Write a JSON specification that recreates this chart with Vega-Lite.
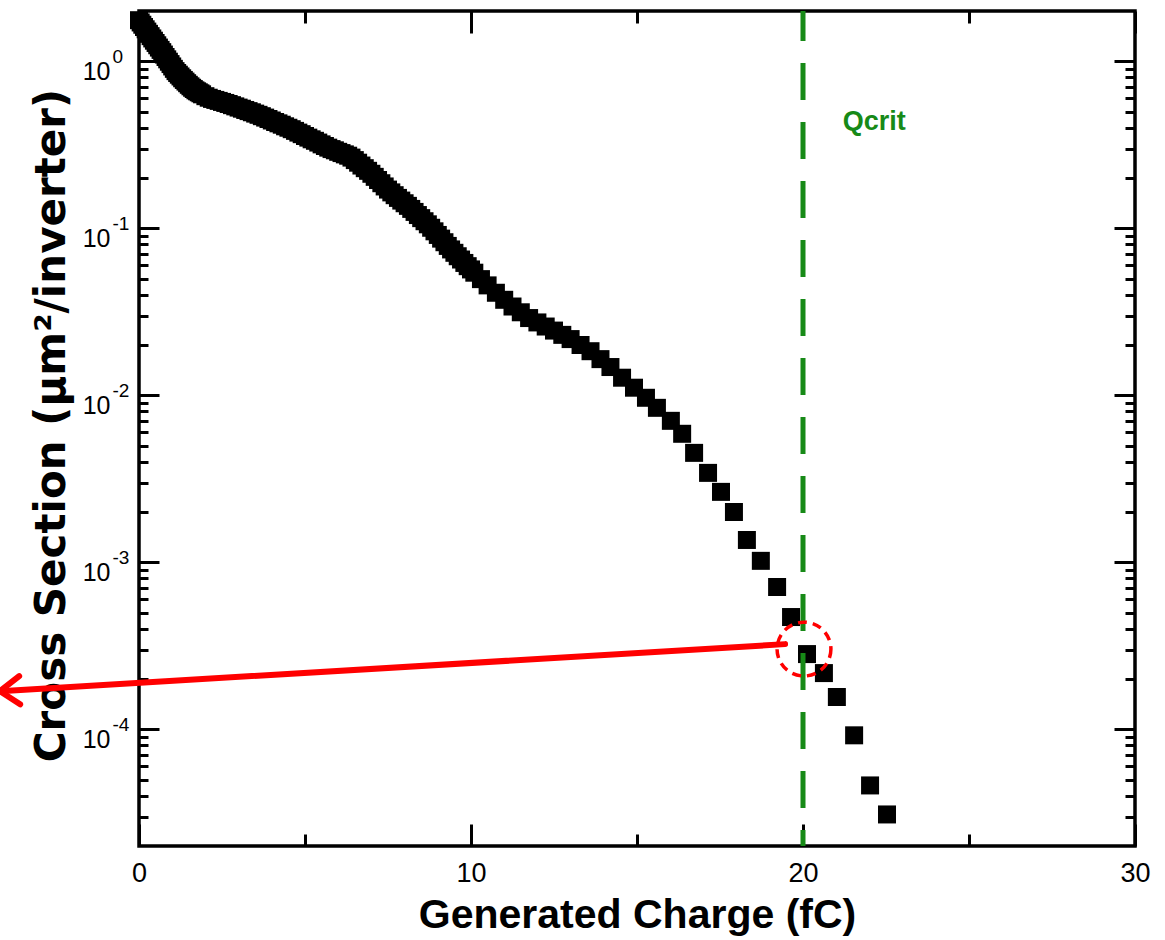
{
  "$schema": "https://vega.github.io/schema/vega-lite/v6.json",
  "width": 996,
  "height": 835,
  "autosize": {"type": "none"},
  "padding": {"left": 139, "top": 11, "right": 30, "bottom": 94},
  "background": "white",
  "config": {
    "view": {"stroke": "black", "strokeWidth": 3.5},
    "axis": {"domain": false, "grid": false, "tickColor": "black", "labelColor": "black", "titleColor": "black", "labelFont": "Liberation Sans", "titleFont": "Liberation Sans"}
  },
  "datasets": {
    "curve": [
      {"q": 0.0, "s": 1.762}, {"q": 0.05, "s": 1.708}, {"q": 0.1, "s": 1.655}, {"q": 0.15, "s": 1.604}, {"q": 0.2, "s": 1.554}, {"q": 0.25, "s": 1.506}, {"q": 0.3, "s": 1.46},
      {"q": 0.35, "s": 1.414}, {"q": 0.4, "s": 1.37}, {"q": 0.45, "s": 1.328}, {"q": 0.5, "s": 1.287}, {"q": 0.55, "s": 1.247}, {"q": 0.6, "s": 1.208}, {"q": 0.65, "s": 1.17}, {"q": 0.7, "s": 1.134},
      {"q": 0.75, "s": 1.097}, {"q": 0.8, "s": 1.061}, {"q": 0.85, "s": 1.027}, {"q": 0.9, "s": 0.994}, {"q": 0.95, "s": 0.962}, {"q": 1.0, "s": 0.931}, {"q": 1.05, "s": 0.901}, {"q": 1.1, "s": 0.873},
      {"q": 1.15, "s": 0.851}, {"q": 1.2, "s": 0.831}, {"q": 1.25, "s": 0.811}, {"q": 1.3, "s": 0.791}, {"q": 1.35, "s": 0.773}, {"q": 1.4, "s": 0.756}, {"q": 1.45, "s": 0.739}, {"q": 1.5, "s": 0.723},
      {"q": 1.55, "s": 0.708}, {"q": 1.6, "s": 0.694}, {"q": 1.65, "s": 0.682}, {"q": 1.7, "s": 0.67}, {"q": 1.75, "s": 0.661}, {"q": 1.8, "s": 0.652}, {"q": 1.85, "s": 0.643}, {"q": 1.9, "s": 0.634},
      {"q": 2.0, "s": 0.618}, {"q": 2.1, "s": 0.605}, {"q": 2.2, "s": 0.595}, {"q": 2.3, "s": 0.587}, {"q": 2.4, "s": 0.579},
      {"q": 2.5, "s": 0.571}, {"q": 2.6, "s": 0.563}, {"q": 2.7, "s": 0.555}, {"q": 2.8, "s": 0.546}, {"q": 2.9, "s": 0.537}, {"q": 3.0, "s": 0.528},
      {"q": 3.1, "s": 0.52}, {"q": 3.2, "s": 0.511}, {"q": 3.3, "s": 0.503}, {"q": 3.4, "s": 0.495}, {"q": 3.5, "s": 0.486}, {"q": 3.6, "s": 0.478},
      {"q": 3.7, "s": 0.469}, {"q": 3.8, "s": 0.46}, {"q": 3.9, "s": 0.451}, {"q": 4.0, "s": 0.442}, {"q": 4.1, "s": 0.433}, {"q": 4.2, "s": 0.425},
      {"q": 4.3, "s": 0.417}, {"q": 4.4, "s": 0.408}, {"q": 4.5, "s": 0.4}, {"q": 4.6, "s": 0.392}, {"q": 4.7, "s": 0.383}, {"q": 4.8, "s": 0.374},
      {"q": 4.9, "s": 0.366}, {"q": 5.0, "s": 0.357}, {"q": 5.1, "s": 0.349}, {"q": 5.2, "s": 0.341}, {"q": 5.3, "s": 0.334}, {"q": 5.4, "s": 0.326},
      {"q": 5.5, "s": 0.318}, {"q": 5.6, "s": 0.311}, {"q": 5.7, "s": 0.304}, {"q": 5.8, "s": 0.298}, {"q": 5.9, "s": 0.293}, {"q": 6.0, "s": 0.287},
      {"q": 6.1, "s": 0.282}, {"q": 6.2, "s": 0.277}, {"q": 6.3, "s": 0.272}, {"q": 6.4, "s": 0.265}, {"q": 6.5, "s": 0.256}, {"q": 6.6, "s": 0.247},
      {"q": 6.7, "s": 0.2375}, {"q": 6.8, "s": 0.229}, {"q": 6.9, "s": 0.2208}, {"q": 7.0, "s": 0.212}, {"q": 7.1, "s": 0.2032}, {"q": 7.2, "s": 0.1945},
      {"q": 7.3, "s": 0.1861}, {"q": 7.4, "s": 0.178}, {"q": 7.5, "s": 0.1705}, {"q": 7.6, "s": 0.164}, {"q": 7.7, "s": 0.1578}, {"q": 7.8, "s": 0.152},
      {"q": 7.9, "s": 0.1465}, {"q": 8.0, "s": 0.1412}, {"q": 8.1, "s": 0.1362}, {"q": 8.2, "s": 0.1306}, {"q": 8.3, "s": 0.1253}, {"q": 8.4, "s": 0.12},
      {"q": 8.5, "s": 0.115}, {"q": 8.6, "s": 0.1102}, {"q": 8.7, "s": 0.1056}, {"q": 8.8, "s": 0.1007}, {"q": 8.9, "s": 0.0959}, {"q": 9.0, "s": 0.0912},
      {"q": 9.1, "s": 0.0867}, {"q": 9.2, "s": 0.0825}, {"q": 9.3, "s": 0.0784}, {"q": 9.4, "s": 0.0747}, {"q": 9.5, "s": 0.0713}, {"q": 9.6, "s": 0.068},
      {"q": 9.7, "s": 0.065}, {"q": 9.8, "s": 0.062}, {"q": 9.9, "s": 0.0593}, {"q": 10.0, "s": 0.0567}, {"q": 10.1, "s": 0.0542},
      {"q": 10.3, "s": 0.0496}, {"q": 10.5, "s": 0.0455}, {"q": 10.75, "s": 0.0411}, {"q": 11.0, "s": 0.0373},
      {"q": 11.25, "s": 0.034}, {"q": 11.5, "s": 0.0314}, {"q": 11.75, "s": 0.029}, {"q": 12.0, "s": 0.0273},
      {"q": 12.25, "s": 0.0258}, {"q": 12.5, "s": 0.0244}, {"q": 12.75, "s": 0.023}, {"q": 13.0, "s": 0.0217},
      {"q": 13.3, "s": 0.02}, {"q": 13.6, "s": 0.01836}, {"q": 13.9, "s": 0.01646}, {"q": 14.2, "s": 0.01476},
      {"q": 14.55, "s": 0.01274}, {"q": 14.91, "s": 0.0111}, {"q": 15.27, "s": 0.00966}, {"q": 15.6, "s": 0.00841},
      {"q": 16.02, "s": 0.00703}, {"q": 16.36, "s": 0.00588}, {"q": 16.72, "s": 0.00452}, {"q": 17.14, "s": 0.00343},
      {"q": 17.53, "s": 0.00264}, {"q": 17.92, "s": 0.002}, {"q": 18.31, "s": 0.00136}, {"q": 18.73, "s": 0.00102},
      {"q": 19.22, "s": 0.000711}, {"q": 19.64, "s": 0.00047}, {"q": 20.12, "s": 0.000282}, {"q": 20.63, "s": 0.000217},
      {"q": 21.02, "s": 0.000156}, {"q": 21.54, "s": 0.000092}, {"q": 22.02, "s": 0.0000461}, {"q": 22.53, "s": 0.0000309}
    ],
    "qcrit": [{"q": 20, "top": 2, "bottom": 0.00002}],
    "arrow": [{"xa": 19.46, "ya": 0.0003235, "xb": -4.19, "yb": 0.000169}],
    "arrowhead": [
      {"xa": -4.19, "ya": 0.000169, "xb": -3.61, "yb": 0.000208},
      {"xa": -4.19, "ya": 0.000169, "xb": -3.58, "yb": 0.000141}
    ],
    "circle": [{"q": 20.03, "s": 0.000302}],
    "label": [{"q": 21.2, "s": 0.43, "text": "Qcrit"}]
  },
  "resolve": {"axis": {"x": "independent", "y": "independent"}},
  "layer": [
    {
      "data": {"name": "curve"},
      "mark": {"type": "point", "shape": "square", "filled": true, "size": 324, "color": "black", "opacity": 1, "strokeWidth": 0},
      "encoding": {
        "x": {"field": "q", "type": "quantitative",
          "scale": {"domain": [0, 30], "nice": false, "zero": false},
          "axis": {"orient": "bottom", "values": [0, 10, 20, 30], "format": "d", "labelFlush": false, "ticks": false, "tickSize": 0, "labelPadding": 14, "labelFontSize": 27,
            "title": "Generated Charge (fC)", "titleFontSize": 41, "titleFontWeight": "bold", "titleBaseline": "alphabetic", "titleY": 81, "titleX": 498, "titleAlign": "center"}},
        "y": {"field": "s", "type": "quantitative",
          "scale": {"type": "log", "domain": [0.00002, 2], "nice": false},
          "axis": {"orient": "left", "values": [0.0001, 0.001, 0.01, 0.1, 1], "labelExpr": "'10'", "ticks": false, "tickSize": 0, "labelPadding": 29, "labelOffset": 10, "labelBaseline": "middle", "labelAlign": "right", "labelFontSize": 25, "labelOverlap": false,
            "title": "Cross Section (μm²/inverter)", "titleFont": "DejaVu Sans", "titleFontSize": 42, "titleFontWeight": "bold", "titleAngle": 270, "titleBaseline": "alphabetic", "titleAlign": "center", "titleX": -75, "titleY": 414}}
      }
    },
    {
      "data": {"name": "qcrit"},
      "mark": {"type": "rule", "color": "#178a17", "strokeWidth": 5, "strokeDash": [37, 22], "strokeDashOffset": 7},
      "encoding": {
        "x": {"field": "q", "type": "quantitative",
          "scale": {"domain": [0, 30], "nice": false, "zero": false},
          "axis": {"orient": "bottom", "values": [0, 10, 20, 30], "labels": false, "ticks": true, "tickSize": -22, "tickWidth": 3, "title": null}},
        "y": {"field": "top", "type": "quantitative",
          "scale": {"type": "log", "domain": [0.00002, 2], "nice": false},
          "axis": {"orient": "left", "values": [0.0001, 0.001, 0.01, 0.1, 1], "labelExpr": "'' + round(log(datum.value) / LN10)", "ticks": false, "tickSize": 0, "labelPadding": 27, "labelOffset": -5, "labelBaseline": "middle", "labelAlign": "left", "labelFontSize": 19, "labelOverlap": false, "title": null}},
        "y2": {"field": "bottom"}
      }
    },
    {
      "data": {"name": "arrow"},
      "mark": {"type": "rule", "color": "#ff0000", "strokeWidth": 6, "strokeCap": "round"},
      "encoding": {
        "x": {"field": "xa", "type": "quantitative",
          "scale": {"domain": [0, 30], "nice": false, "zero": false},
          "axis": {"orient": "bottom", "values": [5, 15, 25], "labels": false, "ticks": true, "tickSize": -12, "tickWidth": 3, "title": null}},
        "y": {"field": "ya", "type": "quantitative",
          "scale": {"type": "log", "domain": [0.00002, 2], "nice": false},
          "axis": {"orient": "left", "values": [0.0001, 0.001, 0.01, 0.1, 1], "labels": false, "ticks": true, "tickSize": -20, "tickWidth": 3, "title": null}},
        "x2": {"field": "xb"},
        "y2": {"field": "yb"}
      }
    },
    {
      "data": {"name": "arrowhead"},
      "mark": {"type": "rule", "color": "#ff0000", "strokeWidth": 6, "strokeCap": "round"},
      "encoding": {
        "x": {"field": "xa", "type": "quantitative",
          "scale": {"domain": [0, 30], "nice": false, "zero": false},
          "axis": {"orient": "top", "values": [0, 10, 20, 30], "labels": false, "ticks": true, "tickSize": -22, "tickWidth": 3, "title": null}},
        "y": {"field": "ya", "type": "quantitative",
          "scale": {"type": "log", "domain": [0.00002, 2], "nice": false},
          "axis": {"orient": "left", "values": [0.00003, 0.00004, 0.00005, 0.00006, 0.00007, 0.00008, 0.00009, 0.0002, 0.0003, 0.0004, 0.0005, 0.0006, 0.0007, 0.0008, 0.0009, 0.002, 0.003, 0.004, 0.005, 0.006, 0.007, 0.008, 0.009, 0.02, 0.03, 0.04, 0.05, 0.06, 0.07, 0.08, 0.09, 0.2, 0.3, 0.4, 0.5, 0.6, 0.7, 0.8, 0.9], "labels": false, "ticks": true, "tickSize": -9, "tickWidth": 3, "title": null}},
        "x2": {"field": "xb"},
        "y2": {"field": "yb"}
      }
    },
    {
      "data": {"name": "circle"},
      "mark": {"type": "point", "shape": "circle", "filled": false, "size": 2900, "stroke": "#ff0000", "strokeWidth": 3.5, "strokeDash": [9, 6], "opacity": 1},
      "encoding": {
        "x": {"field": "q", "type": "quantitative",
          "scale": {"domain": [0, 30], "nice": false, "zero": false},
          "axis": {"orient": "top", "values": [5, 15, 25], "labels": false, "ticks": true, "tickSize": -12, "tickWidth": 3, "title": null}},
        "y": {"field": "s", "type": "quantitative",
          "scale": {"type": "log", "domain": [0.00002, 2], "nice": false},
          "axis": {"orient": "right", "values": [0.0001, 0.001, 0.01, 0.1, 1], "labels": false, "ticks": true, "tickSize": -21, "tickWidth": 3, "title": null}}
      }
    },
    {
      "data": {"name": "label"},
      "mark": {"type": "text", "align": "left", "baseline": "middle", "font": "Liberation Sans", "fontSize": 27, "fontWeight": "bold", "color": "#178a17"},
      "encoding": {
        "x": {"field": "q", "type": "quantitative",
          "scale": {"domain": [0, 30], "nice": false, "zero": false},
          "axis": null},
        "y": {"field": "s", "type": "quantitative",
          "scale": {"type": "log", "domain": [0.00002, 2], "nice": false},
          "axis": {"orient": "right", "values": [0.00003, 0.00004, 0.00005, 0.00006, 0.00007, 0.00008, 0.00009, 0.0002, 0.0003, 0.0004, 0.0005, 0.0006, 0.0007, 0.0008, 0.0009, 0.002, 0.003, 0.004, 0.005, 0.006, 0.007, 0.008, 0.009, 0.02, 0.03, 0.04, 0.05, 0.06, 0.07, 0.08, 0.09, 0.2, 0.3, 0.4, 0.5, 0.6, 0.7, 0.8, 0.9], "labels": false, "ticks": true, "tickSize": -10, "tickWidth": 3, "title": null}},
        "text": {"field": "text"}
      }
    }
  ]
}
